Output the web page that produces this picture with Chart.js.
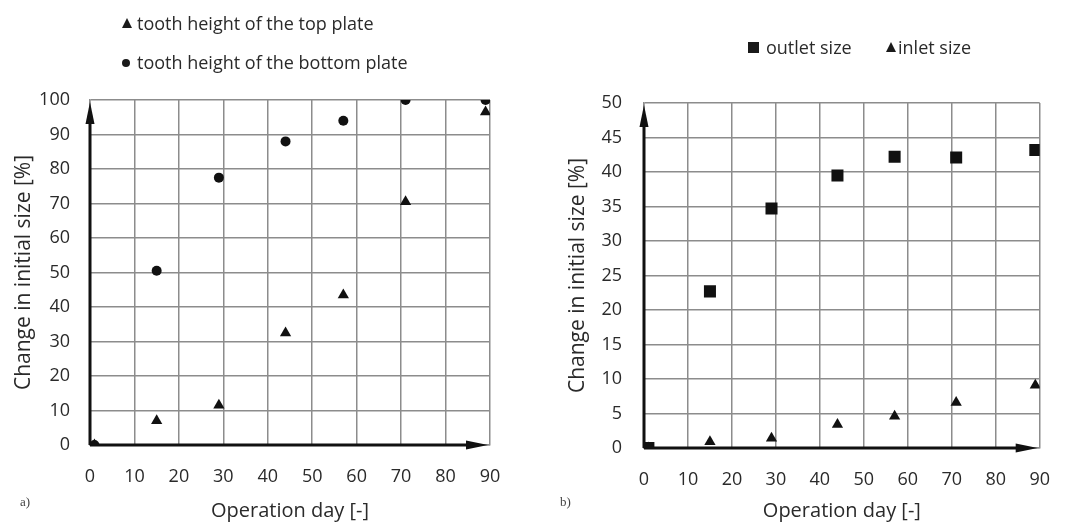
<!DOCTYPE html>
<html>
<head>
<meta charset="utf-8">
<script src="https://cdn.jsdelivr.net/npm/chart.js@4"></script>
<style>
  body { margin: 0; background: #fff; width: 1071px; height: 524px; position: relative; overflow: hidden; font-family: "Open Sans", sans-serif; color: #2a2a2a; }
  canvas { position: absolute; top: 0; }
  #chartA { left: 0; }
  #chartB { left: 540px; }
  .lt { position: absolute; font-size: 18px; line-height: 24px; white-space: nowrap; }
  .tri { position: absolute; width: 0; height: 0; border-left: 5.5px solid transparent; border-right: 5.5px solid transparent; border-bottom: 10px solid #1a1a1a; }
  .dot { position: absolute; width: 8px; height: 8px; border-radius: 50%; background: #1a1a1a; }
  .sq { position: absolute; width: 11px; height: 11px; background: #1a1a1a; }
  .tag { position: absolute; font-family: "Liberation Serif", serif; font-size: 13px; color: #444; }
</style>
</head>
<body>
<canvas id="chartA" width="540" height="524"></canvas>
<canvas id="chartB" width="531" height="524"></canvas>
<div class="tri" style="left:122px; top:18px;"></div>
<div class="lt" style="left:137px; top:11px;">tooth height of the top plate</div>
<div class="dot" style="left:122px; top:59px;"></div>
<div class="lt" style="left:137px; top:50px;">tooth height of the bottom plate</div>
<div class="sq" style="left:748px; top:42px;"></div>
<div class="lt" style="left:766px; top:35px;">outlet size</div>
<div class="tri" style="left:886px; top:42px;"></div>
<div class="lt" style="left:898px; top:35px;">inlet size</div>
<div class="tag" style="left:20px; top:494px;">a)</div>
<div class="tag" style="left:560px; top:494px;">b)</div>
<script>
// operation days where measurements were taken
const daysA = [1, 15, 29, 44, 57, 71, 89];
const topPlate = [0, 7, 11.5, 32.5, 43.5, 70.5, 96.5];
const bottomPlate = [0, 50.5, 77.5, 88, 94, 100, 100];

const daysB = [1, 15, 29, 44, 57, 71, 89];
const outletSize = [0, 22.7, 34.7, 39.5, 42.2, 42.1, 43.2];
const inletSize = [0, 0.9, 1.4, 3.4, 4.6, 6.6, 9.1];

const xTitle = 'Operation day [-]';
const yTitle = 'Change in initial size [%]';

function pts(xs, ys) {
  return xs.map((x, i) => ({ x: x, y: ys[i] }));
}

// black axes with arrow heads on top of the grid
const arrowAxes = {
  id: 'arrowAxes',
  beforeDatasetsDraw(chart) {
    const ctx = chart.ctx;
    const xs = chart.scales.x, ys = chart.scales.y;
    const x0 = xs.getPixelForValue(xs.min);
    const y0 = ys.getPixelForValue(ys.min);
    const xEnd = chart.chartArea.right - 2;
    const yEnd = chart.chartArea.top + 2;
    ctx.save();
    ctx.strokeStyle = '#111';
    ctx.fillStyle = '#111';
    ctx.lineWidth = 3;
    ctx.beginPath();
    ctx.moveTo(x0, y0);
    ctx.lineTo(x0, yEnd + 18);
    ctx.moveTo(x0, y0);
    ctx.lineTo(xEnd - 18, y0);
    ctx.stroke();
    ctx.beginPath();
    ctx.moveTo(x0, yEnd);
    ctx.lineTo(x0 - 4.5, yEnd + 22);
    ctx.lineTo(x0 + 4.5, yEnd + 22);
    ctx.closePath();
    ctx.fill();
    ctx.beginPath();
    ctx.moveTo(xEnd, y0);
    ctx.lineTo(xEnd - 22, y0 - 4.5);
    ctx.lineTo(xEnd - 22, y0 + 4.5);
    ctx.closePath();
    ctx.fill();
    ctx.restore();
  }
};

function makeChart(id, datasets, yMax, yStep, box) {
  const grid = { color: '#8c8c8c', lineWidth: 1.5, drawTicks: false };
  const tickFont = { family: 'Open Sans', size: 18 };
  return new Chart(document.getElementById(id), {
    type: 'scatter',
    data: { datasets: datasets },
    options: {
      responsive: false,
      animation: false,
      layout: { padding: { top: box.top, right: box.right, left: 0, bottom: 0 } },
      plugins: { legend: { display: false }, tooltip: { enabled: false } },
      scales: {
        x: {
          type: 'linear', min: 0, max: 90,
          grid: grid,
          border: { color: '#8c8c8c', width: 1.5 },
          ticks: { stepSize: 10, padding: 21, color: '#2a2a2a', font: tickFont, maxRotation: 0 },
          title: { display: true, text: xTitle, color: '#2a2a2a', font: { family: 'Open Sans', size: 20 }, padding: { top: 0, bottom: 1 } },
          afterFit(scale) { scale.height = box.xh; }
        },
        y: {
          type: 'linear', min: 0, max: yMax,
          grid: grid,
          border: { color: '#8c8c8c', width: 1.5 },
          ticks: { stepSize: yStep, padding: box.tickPad, color: '#2a2a2a', font: tickFont },
          title: { display: true, text: yTitle, color: '#2a2a2a', font: { family: 'Open Sans', size: 21 }, padding: { top: box.titlePad, bottom: 0 } },
          afterFit(scale) { scale.width = box.yw; }
        }
      }
    },
    plugins: [arrowAxes]
  });
}

makeChart('chartA', [
  { label: 'tooth height of the top plate', data: pts(daysA, topPlate), pointStyle: 'triangle', pointRadius: 6.5, backgroundColor: '#111', borderColor: '#111', borderWidth: 0 },
  { label: 'tooth height of the bottom plate', data: pts(daysA, bottomPlate), pointStyle: 'circle', pointRadius: 5, backgroundColor: '#111', borderColor: '#111', borderWidth: 0 }
], 100, 10, { top: 100, right: 50, xh: 79, yw: 90, tickPad: 20, titlePad: 11 });

makeChart('chartB', [
  { label: 'outlet size', data: pts(daysB, outletSize), pointStyle: 'rect', pointRadius: 8.5, backgroundColor: '#111', borderColor: '#111', borderWidth: 0 },
  { label: 'inlet size', data: pts(daysB, inletSize), pointStyle: 'triangle', pointRadius: 6.5, backgroundColor: '#111', borderColor: '#111', borderWidth: 0 }
], 50, 5, { top: 103, right: 23, xh: 76, yw: 104, tickPad: 22, titlePad: 25 });
</script>
</body>
</html>
